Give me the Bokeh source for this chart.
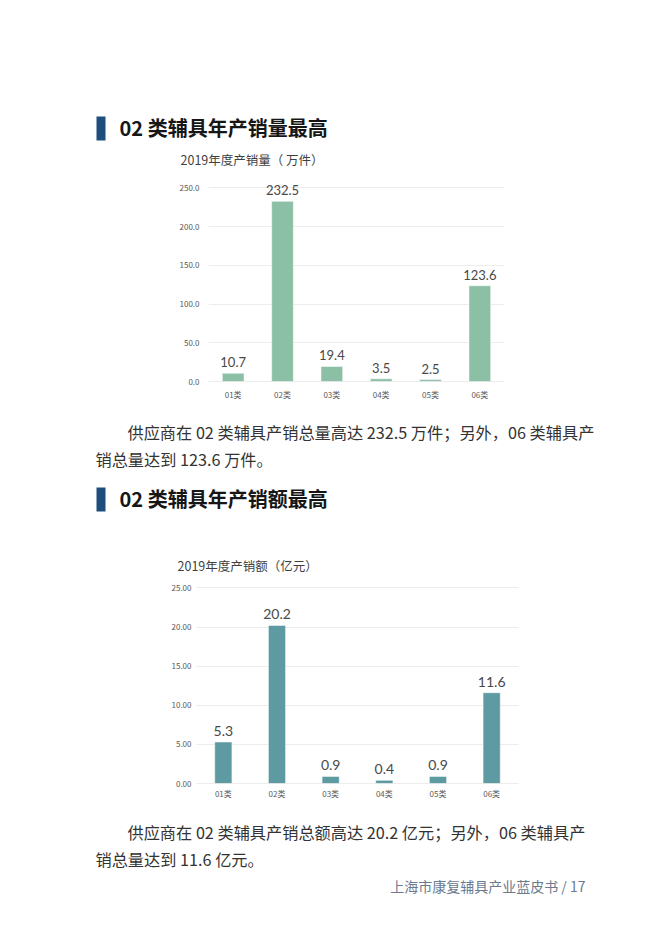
from bokeh.plotting import figure
from bokeh.layouts import column
from bokeh.models import Range1d, FactorRange, FixedTicker, NumeralTickFormatter, Span
from bokeh.core.properties import value
from bokeh.embed import file_html
from bokeh.resources import INLINE

# ---------------- data ----------------
categories = ["01类", "02类", "03类", "04类", "05类", "06类"]
volume_wan = [10.7, 232.5, 19.4, 3.5, 2.5, 123.6]        # 万件
revenue_yi = [5.3, 20.2, 0.9, 0.4, 0.9, 11.6]            # 亿元
volume_ticks = [0, 50, 100, 150, 200, 250]
revenue_ticks = [0, 5, 10, 15, 20, 25]

heading1 = "02 类辅具年产销量最高"
heading2 = "02 类辅具年产销额最高"
title1 = "2019年度产销量（ 万件）"
title2 = "2019年度产销额（亿元）"
para1 = ["供应商在 02 类辅具产销总量高达 232.5 万件；另外，06 类辅具产",
         "销总量达到 123.6 万件。"]
para2 = ["供应商在 02 类辅具产销总额高达 20.2 亿元；另外，06 类辅具产",
         "销总量达到 11.6 亿元。"]
footer = "上海市康复辅具产业蓝皮书 / 17"

CJK = value("Noto Sans CJK SC")
W = 649


def text_fig(top, bottom):
    f = figure(width=W, height=bottom - top, x_range=Range1d(0, W),
               y_range=Range1d(bottom, top), output_backend="svg",
               toolbar_location=None, x_axis_type=None, y_axis_type=None,
               min_border=0, frame_align=False)
    f.grid.visible = False
    f.outline_line_color = None
    return f


def heading(f, ytop, ybot, txt):
    f.quad(left=[96], right=[105], top=[ytop], bottom=[ybot],
           fill_color="#1d4e7c", line_color=None)
    f.text(x=[119], y=[(ytop + ybot) / 2 - 1], text=[txt], text_font=CJK,
           text_font_style="bold", text_font_size="20px",
           text_color="#161616", text_baseline="middle", text_align="left")


def para(f, lines, ys):
    f.text(x=[127], y=[ys[0]], text=[lines[0]], text_font=CJK,
           text_font_size="16.2px", text_color="#333333",
           text_baseline="middle", text_align="left")
    f.text(x=[95], y=[ys[1]], text=[lines[1]], text_font=CJK,
           text_font_size="16.2px", text_color="#333333",
           text_baseline="middle", text_align="left")


def chart_title(f, x, y, txt):
    f.text(x=[x], y=[y], text=[txt], text_font=CJK, text_font_size="12.5px",
           text_color="#3f3f3f", text_baseline="middle", text_align="left")


def bar_chart(vals, ticks, fmt, color, y_end, height, left, right, top,
              bottom, bar_w, label_size, ystand, xstand):
    p = figure(width=W, height=height, x_range=FactorRange(factors=categories,
               range_padding=0), y_range=Range1d(0, y_end),
               output_backend="svg", toolbar_location=None,
               min_border_left=left, min_border_right=right,
               min_border_top=top, min_border_bottom=bottom,
               frame_align=False)
    p.outline_line_color = None
    p.xgrid.visible = False
    p.ygrid.grid_line_color = "#ececec"
    p.ygrid.ticker = FixedTicker(ticks=ticks)
    p.yaxis.ticker = FixedTicker(ticks=ticks)
    p.yaxis.formatter = NumeralTickFormatter(format=fmt)
    for ax in (p.xaxis[0], p.yaxis[0]):
        ax.axis_line_color = None
        ax.major_tick_line_color = None
        ax.minor_tick_line_color = None
        ax.major_tick_out = 0
        ax.major_tick_in = 0
        ax.major_label_text_font = "Noto Sans CJK SC"
        ax.major_label_text_font_size = "8px"
        ax.major_label_text_color = "#595959"
    p.yaxis.major_label_standoff = ystand
    p.xaxis.major_label_standoff = xstand
    p.add_layout(Span(location=0, dimension="width", line_color="#d9d9d9",
                      line_width=1))
    p.vbar(x=categories, top=vals, width=bar_w, fill_color=color,
           line_color="white", line_width=0.5)
    p.text(x=categories, y=vals, text=[f"{v:.1f}" for v in vals],
           text_font=value("Lato"), text_font_size=label_size,
           text_color="#484848", text_align="center",
           text_baseline="bottom", y_offset=-6)
    return p


# ---------------- page sections ----------------
f1 = text_fig(0, 171)
heading(f1, 116, 140, heading1)
chart_title(f1, 180, 159, title1)

p1 = bar_chart(volume_wan, volume_ticks, "0.0", "#8bc0a6",
               250 * 206 / 193.7, 234, 208, 145, 4, 24, 0.44, "13px", 9, 7)

f3 = text_fig(405, 575)
para(f3, para1, [431, 458])
heading(f3, 487, 511, heading2)
chart_title(f3, 177, 565, title2)

p2 = bar_chart(revenue_yi, revenue_ticks, "0.00", "#5e9aa1",
               25 * 203 / 195.6, 230, 196, 131, 5, 22, 0.32, "14px", 5, 4)

f5 = text_fig(805, 925)
para(f5, para2, [831, 858])
f5.text(x=[585], y=[885], text=[footer], text_font=CJK, text_font_size="14px",
        text_color="#6b7a8e", text_baseline="middle", text_align="right")

page = column(f1, p1, f3, p2, f5, spacing=0)
open("out.html", "w").write(file_html(page, INLINE))
